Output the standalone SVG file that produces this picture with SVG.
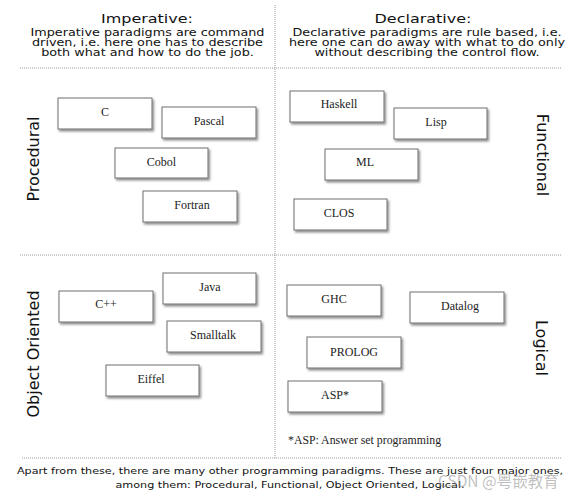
<svg xmlns="http://www.w3.org/2000/svg" width="580" height="499" viewBox="0 0 580 499">
<style>
.sep{stroke:#9a9a9a;stroke-width:1;stroke-dasharray:1 1;fill:none}
.box{fill:#fff;stroke:#6e6e6e;stroke-width:1;filter:url(#sh)}
.bt{font-family:"Liberation Serif",serif;font-size:12px;fill:#222;text-anchor:middle}
.hd{font-family:"DejaVu Sans",sans-serif;fill:#111;text-anchor:middle}
.ttl{font-size:16px}
.desc{font-size:12.8px}
.side{font-family:"DejaVu Sans",sans-serif;font-size:16px;fill:#111;text-anchor:middle}
.foot{font-family:"DejaVu Sans",sans-serif;font-size:11.2px;fill:#111;text-anchor:middle}
.note{font-family:"Liberation Serif",serif;font-size:11.8px;fill:#222}
</style>
<defs>
<filter id="sh" x="-10%" y="-20%" width="125%" height="150%">
<feDropShadow dx="1.5" dy="2" stdDeviation="1.3" flood-color="#000" flood-opacity="0.45"/>
</filter>
</defs>
<rect width="580" height="499" fill="#fff"/>
<g id="grid">
<line class="sep" x1="275" y1="5" x2="275" y2="458"/>
<line class="sep" x1="20" y1="68" x2="562" y2="68"/>
<line class="sep" x1="20" y1="255" x2="562" y2="255"/>
<line class="sep" x1="22" y1="458" x2="562" y2="458"/>
</g>
<g id="header-imperative" transform="scale(1,0.8)">
<text class="hd ttl" x="147" y="29.1">Imperative:</text>
<text class="hd desc" x="147.5" y="44.4">Imperative paradigms are command</text>
<text class="hd desc" x="147.5" y="57.5">driven, i.e. here one has to describe</text>
<text class="hd desc" x="147.5" y="70">both what and how to do the job.</text>
</g>
<g id="header-declarative" transform="scale(1,0.8)">
<text class="hd ttl" x="423" y="29.1">Declarative:</text>
<text class="hd desc" x="427" y="44.4">Declarative paradigms are rule based, i.e.</text>
<text class="hd desc" x="427" y="57.5">here one can do away with what to do only</text>
<text class="hd desc" x="427" y="70">without describing the control flow.</text>
</g>
<g id="label-procedural"><text class="side" transform="translate(39,159) rotate(-90)">Procedural</text></g>
<g id="label-functional"><text class="side" transform="translate(537,155) rotate(90)">Functional</text></g>
<g id="label-oo"><text class="side" transform="translate(39,354) rotate(-90)">Object Oriented</text></g>
<g id="label-logical"><text class="side" transform="translate(536,348) rotate(90)">Logical</text></g>
<g id="node-c"><rect class="box" x="58" y="98" width="94" height="31"/><text class="bt" x="105" y="116">C</text></g>
<g id="node-pascal"><rect class="box" x="162" y="107" width="94" height="31"/><text class="bt" x="209" y="125">Pascal</text></g>
<g id="node-cobol"><rect class="box" x="115" y="148" width="93" height="30"/><text class="bt" x="161.5" y="166">Cobol</text></g>
<g id="node-fortran"><rect class="box" x="143" y="191" width="94" height="31"/><text class="bt" x="192" y="209">Fortran</text></g>
<g id="node-haskell"><rect class="box" x="290" y="91" width="94" height="31"/><text class="bt" x="339" y="108">Haskell</text></g>
<g id="node-lisp"><rect class="box" x="394" y="108" width="93" height="31"/><text class="bt" x="436" y="126">Lisp</text></g>
<g id="node-ml"><rect class="box" x="325" y="149" width="93" height="31"/><text class="bt" x="365" y="166">ML</text></g>
<g id="node-clos"><rect class="box" x="294" y="199" width="93" height="31"/><text class="bt" x="339" y="217">CLOS</text></g>
<g id="node-cpp"><rect class="box" x="59" y="291" width="94" height="31"/><text class="bt" x="106" y="308">C++</text></g>
<g id="node-java"><rect class="box" x="163" y="273" width="93" height="31"/><text class="bt" x="210" y="291">Java</text></g>
<g id="node-smalltalk"><rect class="box" x="167" y="321" width="94" height="31"/><text class="bt" x="213" y="339">Smalltalk</text></g>
<g id="node-eiffel"><rect class="box" x="106" y="365" width="93" height="31"/><text class="bt" x="151" y="383">Eiffel</text></g>
<g id="node-ghc"><rect class="box" x="287" y="285" width="94" height="31"/><text class="bt" x="334" y="303">GHC</text></g>
<g id="node-datalog"><rect class="box" x="410" y="292" width="94" height="31"/><text class="bt" x="460" y="310">Datalog</text></g>
<g id="node-prolog"><rect class="box" x="307" y="337" width="94" height="31"/><text class="bt" x="354" y="356">PROLOG</text></g>
<g id="node-asp"><rect class="box" x="288" y="381" width="94" height="31"/><text class="bt" x="335" y="399">ASP*</text></g>
<g id="connectors"></g>
<g id="footnote"><text class="note" x="288" y="444">*ASP: Answer set programming</text></g>
<g id="bottom-text" transform="scale(1,0.82)">
<text class="foot" x="290" y="578">Apart from these, there are many other programming paradigms. These are just four major ones,</text>
<text class="foot" x="290" y="595.5">among them: Procedural, Functional, Object Oriented, Logical.</text>
</g>
<g id="watermark"><text x="438" y="487" font-family="'Noto Sans CJK SC','DejaVu Sans',sans-serif" font-size="15.5" fill="#8a8a8a" fill-opacity="0.55">CSDN @粤嵌教育</text></g>
</svg>
